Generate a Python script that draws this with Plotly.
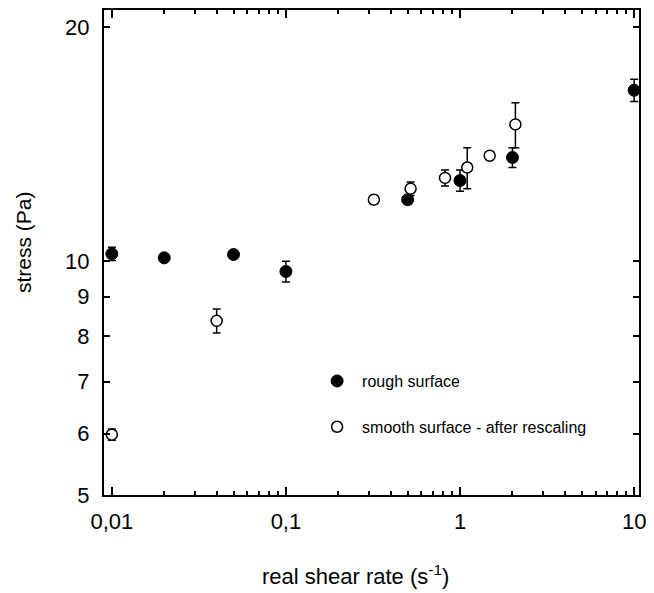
import plotly.graph_objects as go
import math

rough_x = [0.01, 0.02, 0.05, 0.1, 0.5, 1.0, 2.0, 10.0]
rough_y = [10.22, 10.1, 10.2, 9.7, 12.0, 12.7, 13.6, 16.6]
rough_err = [0.2, 0.05, 0.05, 0.3, 0.15, 0.4, 0.4, 0.55]

smooth_x = [0.01, 0.04, 0.32, 0.52, 0.82, 1.1, 1.48, 2.08]
smooth_y = [5.98, 8.38, 12.0, 12.4, 12.8, 13.2, 13.67, 15.0]
smooth_err = [0.1, 0.3, 0.15, 0.25, 0.3, 0.8, 0.0, 1.0]

x_tickvals = [0.01, 0.1, 1, 10]
x_ticktext = ["0,01", "0,1", "1", "10"]
y_tickvals = [5, 6, 7, 8, 9, 10, 20]
y_ticktext = ["5", "6", "7", "8", "9", "10", "20"]

FONT = "Liberation Sans, Arial, sans-serif"

fig = go.Figure()
fig.add_trace(go.Scatter(
    x=rough_x, y=rough_y, mode="markers", name="rough surface",
    legendgroup="a",
    marker=dict(symbol="circle", size=12, color="black", line=dict(color="black", width=1)),
    error_y=dict(type="data", array=rough_err, visible=True, color="black", thickness=1.5, width=4),
))
fig.add_trace(go.Scatter(
    x=smooth_x, y=smooth_y, mode="markers", name="smooth surface - after rescaling",
    legendgroup="b",
    marker=dict(symbol="circle", size=11, color="white", line=dict(color="black", width=1.5)),
    error_y=dict(type="data", array=smooth_err, visible=True, color="black", thickness=1.5, width=4),
))

fig.update_layout(
    width=654, height=593,
    margin=dict(l=104, r=9, t=8, b=98),
    paper_bgcolor="white", plot_bgcolor="white",
    font=dict(family=FONT, color="black", size=20),
    showlegend=True,
    legend=dict(x=0.389, y=0.27, xanchor="left", yanchor="top",
                font=dict(size=16, family=FONT), bgcolor="rgba(0,0,0,0)",
                tracegroupgap=22, itemwidth=40, itemclick=False),
    xaxis=dict(
        type="log", range=[-2.045, 1.028],
        tickvals=x_tickvals, ticktext=x_ticktext,
        ticks="inside", ticklen=8, tickwidth=2, tickcolor="black",
        minor=dict(dtick="D1", ticks="inside", ticklen=4, tickwidth=2, tickcolor="black", showgrid=False),
        showline=True, linewidth=2, linecolor="black", mirror="allticks",
        showgrid=False, zeroline=False,
        tickfont=dict(size=22, family=FONT), ticklabelstandoff=6,
    ),
    yaxis=dict(
        type="log", range=[math.log10(5), 1.3234],
        tickvals=y_tickvals, ticktext=y_ticktext,
        ticks="inside", ticklen=6, tickwidth=2, tickcolor="black",
        showline=True, linewidth=2, linecolor="black", mirror="allticks",
        showgrid=False, zeroline=False,
        tickfont=dict(size=22, family=FONT), ticklabelstandoff=8,
    ),
    annotations=[
        dict(text="real shear rate (s<sup>-1</sup>)", xref="paper", yref="paper",
             x=0.471, y=-0.164, xanchor="center", yanchor="middle", showarrow=False,
             font=dict(size=22, family=FONT, color="black")),
        dict(text="stress (Pa)", xref="paper", yref="paper", textangle=-90,
             x=0, xshift=-81, y=0.5216, xanchor="center", yanchor="middle", showarrow=False,
             font=dict(size=21, family=FONT, color="black")),
    ],
)

fig.write_html("out.html")
